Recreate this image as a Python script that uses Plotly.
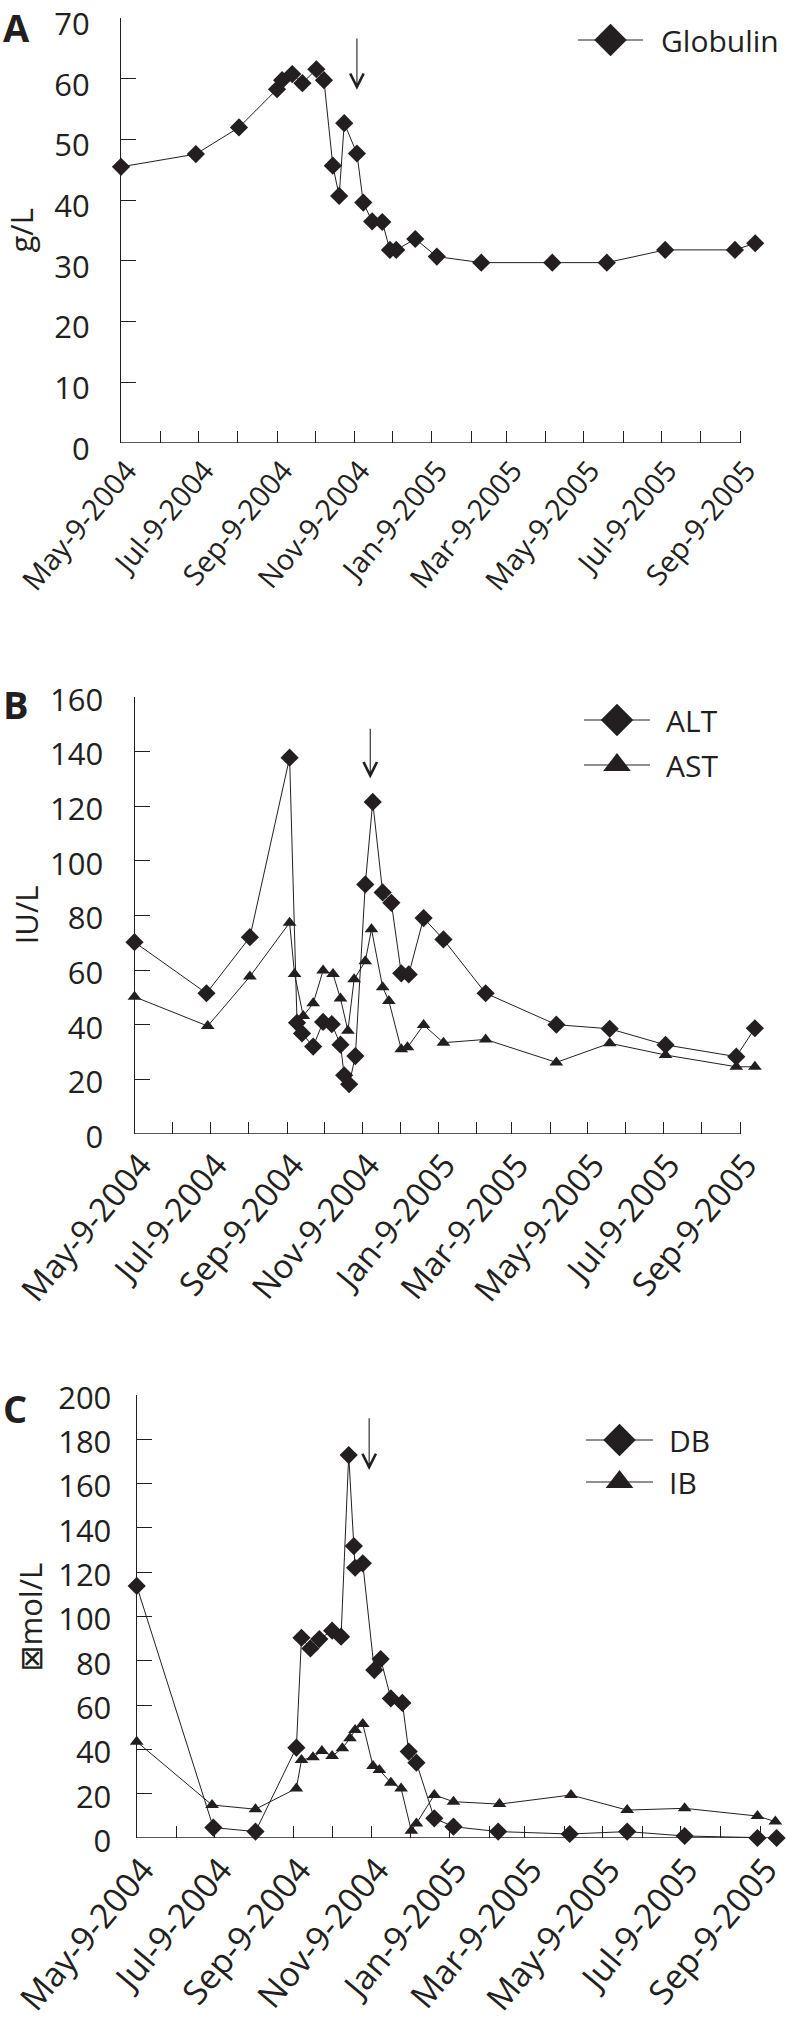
import plotly.graph_objects as go

# ---------------- data ----------------
tick_dates = ["2004-05-09", "2004-07-09", "2004-09-09", "2004-11-09", "2005-01-09",
              "2005-03-09", "2005-05-09", "2005-07-09", "2005-09-09"]
tick_labels = ["May-9-2004", "Jul-9-2004", "Sep-9-2004", "Nov-9-2004", "Jan-9-2005",
               "Mar-9-2005", "May-9-2005", "Jul-9-2005", "Sep-9-2005"]

glob_dates = ["2004-05-09", "2004-07-07", "2004-08-10", "2004-09-09", "2004-09-13", "2004-09-21",
              "2004-09-29", "2004-10-10", "2004-10-16", "2004-10-23", "2004-10-28", "2004-11-01",
              "2004-11-11", "2004-11-16", "2004-11-23", "2004-12-01", "2004-12-07", "2004-12-12",
              "2004-12-27", "2005-01-13", "2005-02-17", "2005-04-14", "2005-05-27", "2005-07-12",
              "2005-09-05", "2005-09-21"]
glob_vals = [45.5, 47.6, 52.0, 58.3, 59.8, 60.8, 59.3, 61.6, 59.8, 45.7, 40.7, 52.7, 47.7, 39.6,
             36.5, 36.4, 31.8, 31.8, 33.6, 30.7, 29.7, 29.7, 29.7, 31.8, 31.8, 32.9]

alt_dates = ["2004-05-09", "2004-07-06", "2004-08-10", "2004-09-11", "2004-09-17", "2004-09-21",
             "2004-09-30", "2004-10-08", "2004-10-15", "2004-10-22", "2004-10-25", "2004-10-29",
             "2004-11-03", "2004-11-11", "2004-11-17", "2004-11-25", "2004-12-02", "2004-12-10",
             "2004-12-16", "2004-12-28", "2005-01-13", "2005-02-16", "2005-04-14", "2005-05-27",
             "2005-07-11", "2005-09-06", "2005-09-21"]
alt_vals = [70.2, 51.5, 72.0, 137.7, 40.7, 36.8, 32.0, 41.0, 40.2, 32.7, 21.5, 18.2, 28.5, 91.3,
            121.5, 88.4, 84.6, 58.8, 58.4, 79.0, 71.2, 51.5, 40.0, 38.5, 32.6, 28.3, 38.7]

ast_dates = ["2004-05-09", "2004-07-07", "2004-08-10", "2004-09-11", "2004-09-15", "2004-09-22",
             "2004-09-30", "2004-10-08", "2004-10-16", "2004-10-22", "2004-10-28", "2004-11-02",
             "2004-11-11", "2004-11-16", "2004-11-25", "2004-11-30", "2004-12-10", "2004-12-15",
             "2004-12-28", "2005-01-13", "2005-02-16", "2005-04-14", "2005-05-27", "2005-07-11",
             "2005-09-06", "2005-09-21"]
ast_vals = [50.2, 39.5, 57.6, 77.3, 58.5, 43.2, 47.8, 59.8, 58.5, 49.6, 37.8, 56.6, 63.2, 74.9,
            53.7, 48.7, 31.0, 31.7, 39.9, 33.4, 34.6, 26.2, 33.2, 28.9, 24.6, 24.6]

db_dates = ["2004-05-09", "2004-07-08", "2004-08-10", "2004-09-11", "2004-09-15", "2004-09-22",
            "2004-09-29", "2004-10-09", "2004-10-16", "2004-10-22", "2004-10-26", "2004-10-27",
            "2004-11-02", "2004-11-11", "2004-11-16", "2004-11-24", "2004-12-03", "2004-12-08",
            "2004-12-14", "2004-12-28", "2005-01-12", "2005-02-16", "2005-04-13", "2005-05-28",
            "2005-07-12", "2005-09-07", "2005-09-22"]
db_vals = [113.8, 4.7, 2.9, 40.8, 90.4, 85.6, 89.8, 93.6, 90.9, 172.9, 131.8, 122.0, 124.0, 75.8,
           80.8, 63.0, 61.0, 39.0, 34.0, 8.9, 5.1, 2.9, 1.8, 2.9, 0.9, 0.0, 0.0]

ib_dates = ["2004-05-09", "2004-07-07", "2004-08-10", "2004-09-11", "2004-09-15", "2004-09-24",
            "2004-10-01", "2004-10-09", "2004-10-17", "2004-10-23", "2004-10-27", "2004-11-02",
            "2004-11-10", "2004-11-15", "2004-11-24", "2004-12-02", "2004-12-10", "2004-12-14",
            "2004-12-28", "2005-01-12", "2005-02-17", "2005-04-14", "2005-05-28", "2005-07-12",
            "2005-09-07", "2005-09-21"]
ib_vals = [43.5, 14.9, 13.0, 22.4, 35.2, 36.4, 39.3, 37.0, 40.5, 45.0, 48.8, 51.5, 32.5, 30.7,
           25.0, 22.4, 3.3, 6.6, 19.4, 16.4, 15.3, 19.4, 12.6, 13.4, 9.9, 7.4]

# arrows: (date, start value, tip value)
arrow_a = ("2004-11-11", 66.9, 58.2)
arrow_b = ("2004-11-15", 148.8, 130.1)
arrow_c = ("2004-11-07", 190.2, 166.1)

# ---------------- layout constants ----------------
W, H = 787, 2023
INK = "#231f20"
FONT = "Open Sans, Noto Sans, DejaVu Sans, sans-serif"
X0, XT, XE = "2004-05-09", "2005-09-09", "2005-09-26"
DAYS_T, DAYS_E = 488, 505

# pixel boxes: (left, tick_end, top, bottom)
panels = {
    "A": dict(box=(121, 740, 18.3, 442.7), ymax=70, dtick=10, sub=("x", "y"),
              ytitle="g/L", ytx=20, letter_y=27, std=24, xfont=29, yshift=6),
    "B": dict(box=(134.5, 740, 696.7, 1134), ymax=160, dtick=20, sub=("x2", "y2"),
              ytitle="IU/L", ytx=26, letter_y=704, std=24, xfont=33, yshift=3),
    "C": dict(box=(136.7, 760, 1395, 1838), ymax=200, dtick=20, sub=("x3", "y3"),
              ytitle="\u22a0mol/L", ytx=29, letter_y=1408, std=18, xfont=34, yshift=3),
}

fig = go.Figure()

line_style = dict(color=INK, width=1)
dia = dict(symbol="diamond", size=14, color=INK)
tri = dict(symbol="triangle-up", size=12, color=INK)

series = [
    ("A", glob_dates, glob_vals, dia),
    ("B", alt_dates, alt_vals, dia),
    ("B", ast_dates, ast_vals, tri),
    ("C", db_dates, db_vals, dia),
    ("C", ib_dates, ib_vals, tri),
]
for p, xs, ys, mk in series:
    xa, ya = panels[p]["sub"]
    fig.add_trace(go.Scatter(x=xs, y=ys, mode="lines+markers", line=line_style, marker=mk,
                             xaxis=xa, yaxis=ya, cliponaxis=False, showlegend=False,
                             hoverinfo="skip"))

layout = dict(template="none", width=W, height=H,
              margin=dict(l=0, r=0, t=0, b=0, autoexpand=False),
              paper_bgcolor="white", plot_bgcolor="rgba(0,0,0,0)", showlegend=False,
              font=dict(family=FONT, color=INK))
shapes, annots = [], []

for key, p in panels.items():
    left, tend, top, bottom = p["box"]
    right = left + (tend - left) * DAYS_E / DAYS_T
    xa, ya = p["sub"]
    xname = "xaxis" + xa[1:]
    yname = "yaxis" + ya[1:]
    layout[xname] = dict(
        domain=[left / W, right / W], range=[X0, XE], type="date", anchor=ya,
        tickmode="array", tickvals=tick_dates, ticktext=tick_labels, tickangle=-50,
        ticks="inside", ticklen=12, tickwidth=1.3, tickcolor=INK,
        tickfont=dict(size=p["xfont"], color=INK, family=FONT),
        ticklabelshift=6, ticklabelstandoff=4, ticklabeloverflow="allow",
        minor=dict(tickmode="linear", tick0=X0, dtick="M1", ticks="inside", ticklen=12,
                   tickwidth=1.3, tickcolor=INK, showgrid=False),
        showline=False, showgrid=False, zeroline=False, fixedrange=True, automargin=False,
    )
    layout[yname] = dict(
        domain=[1 - bottom / H, 1 - top / H], range=[0, p["ymax"]], dtick=p["dtick"],
        anchor=xa, ticks="inside", ticklen=15, tickwidth=1.3, tickcolor=INK,
        showline=True, linecolor=INK, linewidth=1.3, showgrid=False, zeroline=False,
        tickfont=dict(size=31, color=INK, family=FONT), ticklabelstandoff=p["std"],
        ticklabelshift=p["yshift"], ticklabeloverflow="allow", automargin=False,
        fixedrange=True,
    )
    shapes.append(dict(type="line", xref=xa, yref=ya, x0=X0, x1=XT, y0=0, y1=0,
                       line=dict(color=INK, width=1.3), layer="below"))
    annots.append(dict(text=p["ytitle"], x=p["ytx"] / W, y=1 - (top + bottom) / 2 / H,
                       xref="paper", yref="paper", showarrow=False, textangle=-90,
                       font=dict(size=31, color=INK, family=FONT),
                       xanchor="center", yanchor="middle"))
    annots.append(dict(text="<b>%s</b>" % key, x=1 / W, y=1 - p["letter_y"] / H,
                       xref="paper", yref="paper", showarrow=False,
                       font=dict(size=38, color=INK, family=FONT),
                       xanchor="left", yanchor="middle"))

for (d, y0, y1), (xa, ya) in zip([arrow_a, arrow_b, arrow_c],
                                 [panels[k]["sub"] for k in "ABC"]):
    annots.append(dict(x=d, y=y1, ax=d, ay=y0, xref=xa, yref=ya, axref=xa, ayref=ya,
                       text="", showarrow=True, arrowhead=5, arrowsize=2.4,
                       arrowwidth=1.1, arrowcolor=INK))

# legends drawn on an overlay pixel axis
layout["xaxis4"] = dict(domain=[0, 1], range=[0, W], visible=False, fixedrange=True,
                        anchor="y4", automargin=False)
layout["yaxis4"] = dict(domain=[0, 1], range=[H, 0], visible=False, fixedrange=True,
                        anchor="x4", automargin=False)

legend_items = [
    ("Globulin", 40, "diamond", 578, 643, 659),
    ("ALT", 720, "diamond", 584, 650, 664),
    ("AST", 765, "triangle-up", 584, 650, 664),
    ("DB", 1440, "diamond", 586, 653, 667),
    ("IB", 1482, "triangle-up", 586, 653, 667),
]
for name, yy, sym, lx0, lx1, tx in legend_items:
    fig.add_trace(go.Scatter(x=[lx0, lx1], y=[yy, yy], mode="lines", line=line_style,
                             xaxis="x4", yaxis="y4", showlegend=False, hoverinfo="skip"))
    fig.add_trace(go.Scatter(x=[(lx0 + lx1) / 2], y=[yy], mode="markers",
                             marker=dict(symbol=sym, size=25 if sym == "diamond" else 24,
                                         color=INK),
                             xaxis="x4", yaxis="y4", showlegend=False, hoverinfo="skip"))
    annots.append(dict(text=name, x=tx / W, y=1 - yy / H, xref="paper", yref="paper",
                       showarrow=False, xanchor="left", yanchor="middle",
                       font=dict(size=30, color=INK, family=FONT)))

layout["shapes"] = shapes
layout["annotations"] = annots
fig.update_layout(**layout)
fig.write_html("out.html", config={"displayModeBar": False},
               post_script="document.body.style.margin='0';")
